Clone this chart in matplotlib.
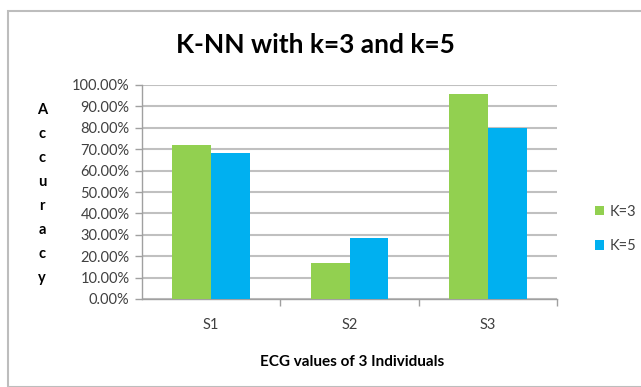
import matplotlib
matplotlib.use("Agg")
import matplotlib.pyplot as plt
from matplotlib.patches import Rectangle
from matplotlib.ticker import FixedLocator, NullFormatter
import numpy as np

categories = ["S1", "S2", "S3"]
k3_values = [0.72, 0.17, 0.96]
k5_values = [0.68, 0.285, 0.80]
series_names = ["K=3", "K=5"]
ytick_values = [i / 10 for i in range(11)]
ytick_labels = [f"{v * 100:.2f}%" for v in ytick_values]

plt.rcParams["font.family"] = ["Lato", "DejaVu Sans"]

W, H = 641, 387
fig = plt.figure(figsize=(W / 100, H / 100), dpi=100)
fig.patch.set_facecolor("white")

# chart frame
fig.patches.append(Rectangle((8 / W, 0), 1.0, 1 - 11 / H, transform=fig.transFigure,
                             fill=False, edgecolor="#bdbdbd", linewidth=1.5, zorder=0))

ax = fig.add_axes([142 / W, 1 - 299 / H, (557 - 142) / W, (299 - 85) / H])
x = np.arange(len(categories))
bw = 0.28
ax.bar(x - bw / 2, k3_values, bw, color="#92d050", label=series_names[0], zorder=3)
ax.bar(x + bw / 2, k5_values, bw, color="#00b0f0", label=series_names[1], zorder=3)

ax.set_xlim(-0.5, len(categories) - 0.5)
ax.set_ylim(0, 1.0)
ax.set_yticks(ytick_values)
ax.set_yticklabels(ytick_labels, fontsize=10.5, color="#404040")
ax.yaxis.grid(True, color="#c0c0c0", linewidth=1.5, zorder=0)
ax.set_axisbelow(True)

ax.set_xticks(x)
ax.set_xticklabels(categories, fontsize=10.5, color="#404040")
ax.tick_params(axis="x", length=0, pad=14)
ax.xaxis.set_minor_locator(FixedLocator([0.5, 1.5, 2.5]))
ax.xaxis.set_minor_formatter(NullFormatter())
ax.tick_params(axis="x", which="minor", length=5, color="#a0a0a0", width=1)
ax.tick_params(axis="y", length=5, color="#a0a0a0", width=1, pad=4)

for side in ["top", "right"]:
    ax.spines[side].set_visible(False)
for side in ["left", "bottom"]:
    ax.spines[side].set_color("#a0a0a0")
    ax.spines[side].set_linewidth(1)

fig.text(315 / W, 1 - 45 / H, "K-NN with k=3 and k=5", ha="center", va="center",
         fontsize=19, fontweight="bold", color="black")
fig.text(352 / W, 1 - 362 / H, "ECG values of 3 Individuals", ha="center", va="center",
         fontsize=11, fontweight="bold", color="black")
fig.text(42 / W, 1 - 194 / H, "\n".join("Accuracy"), ha="center", va="center",
         fontsize=10.5, fontweight="bold", color="black", linespacing=1.92)

leg = fig.legend(loc="center left", bbox_to_anchor=(582 / W, 1 - 229 / H), frameon=False,
                 fontsize=10.5, handlelength=0.6, handleheight=0.6, handletextpad=0.4,
                 labelspacing=1.4, labelcolor="#404040")

fig.savefig("out.png", dpi=100)
